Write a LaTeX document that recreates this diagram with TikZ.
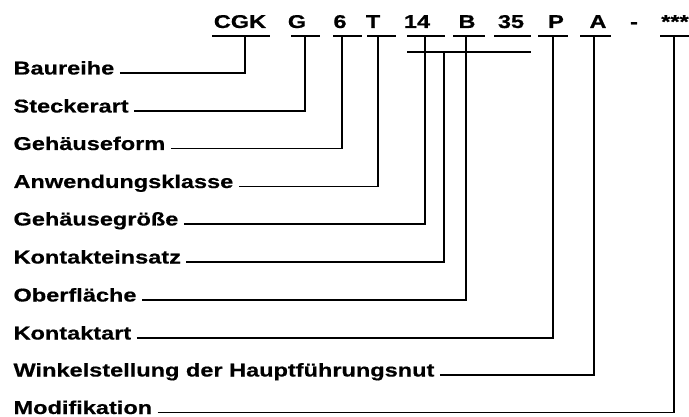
\documentclass[tikz,border=0pt]{standalone}
\usepackage{fontspec}
\setmainfont{Liberation Sans}[FakeStretch=1.27,BoldFeatures={FakeBold=0.6}]
\usepackage{xcolor}

\begin{document}
\begin{tikzpicture}[x=0.75pt,y=-0.75pt,line width=0.8pt,
    code/.style={anchor=base,inner sep=0pt,font=\fontsize{13.9}{16}\selectfont\bfseries},
    lbl/.style={anchor=base west,inner sep=0pt,font=\fontsize{13.9}{16}\selectfont\bfseries}]
    \useasboundingbox (0,0) rectangle (689,417);

    % 型号代码
    \node[code] (cgk) at (240,28) {CGK};
    \node[code] (g) at (297,28) {G};
    \node[code] (six) at (340,28) {6};
    \node[code] (t) at (373,28) {T};
    \node[code] (gr) at (417,28) {14};
    \node[code] (b) at (467,28) {B};
    \node[code] (ks) at (511,28) {35};
    \node[code] (p) at (556,28) {P};
    \node[code] (a) at (598,28) {A};
    \node[code] (dash) at (634,28) {-};
    \node[code] (mod) at (675,28) {***};

    % 下划线
    \draw (212,36) -- (270,36);
    \draw (291,36) -- (320,36);
    \draw (333,36) -- (362,36);
    \draw (367,36) -- (396,36);
    \draw (407,36) -- (445,36);
    \draw (453,36) -- (485,36);
    \draw (494,36) -- (531,36);
    \draw (538,36) -- (568,36);
    \draw (580,36) -- (611,36);
    \draw (660,36) -- (689,36);

    % 连线的上端点
    \coordinate (cgkU) at (245,36);
    \coordinate (gU) at (305,36);
    \coordinate (sixU) at (342,36);
    \coordinate (tU) at (378,36);
    \coordinate (grU) at (425,36);
    \coordinate (bU) at (466,36);
    \coordinate (pU) at (553,36);
    \coordinate (aU) at (594,36);
    \coordinate (modU) at (674,36);
    \coordinate (B1) at (407,52);
    \coordinate (B2) at (531,52);
    \coordinate (ksU) at (444,52);
    \draw (B1) -- (B2);

    % 左侧标签
    \node[lbl] (baureihe) at (13,74.5) {Baureihe};
    \node[lbl] (stecker) at (13,112.5) {Steckerart};
    \node[lbl] (form) at (13,150) {Gehäuseform};
    \node[lbl] (klasse) at (13,188) {Anwendungsklasse};
    \node[lbl] (groesse) at (13,225.5) {Gehäusegröße};
    \node[lbl] (einsatz) at (13,263.5) {Kontakteinsatz};
    \node[lbl] (oberfl) at (13,301.5) {Oberfläche};
    \node[lbl] (kart) at (13,339.5) {Kontaktart\ };
    \node[lbl] (winkel) at (13,376.5) {Winkelstellung der Hauptführungsnut};
    \node[lbl] (modif) at (13,414) {Modifikation};

    % 连线
    \draw ([shift={(5,-1.5)}]baureihe.base east) -| (cgkU);
    \draw ([shift={(5,-1.5)}]stecker.base east) -| (gU);
    \draw ([shift={(5,-1.5)}]form.base east) -| (sixU);
    \draw ([shift={(5,-1.5)}]klasse.base east) -| (tU);
    \draw ([shift={(5,-1.5)}]groesse.base east) -| (grU);
    \draw ([shift={(5,-1.5)}]einsatz.base east) -| (ksU);
    \draw ([shift={(5,-1.5)}]oberfl.base east) -| (bU);
    \draw ([shift={(5,-1.5)}]kart.base east) -| (pU);
    \draw ([shift={(5,-1.5)}]winkel.base east) -| (aU);
    \draw ([shift={(5,-1.5)}]modif.base east) -| (modU);
\end{tikzpicture}
\end{document}
